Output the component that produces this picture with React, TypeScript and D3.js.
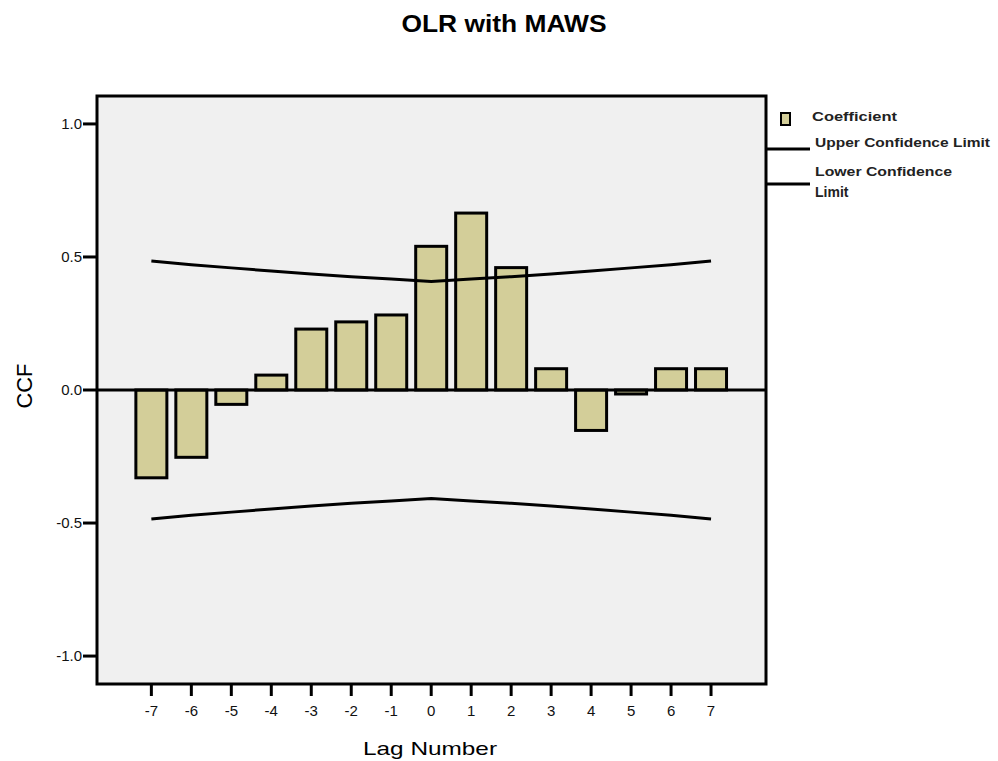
import React from "react";
import * as d3 from "d3";

const lags = [-7, -6, -5, -4, -3, -2, -1, 0, 1, 2, 3, 4, 5, 6, 7];
const coefficient = [-0.33, -0.253, -0.054, 0.056, 0.229, 0.256, 0.282, 0.54, 0.665, 0.46, 0.08, -0.152, -0.015, 0.08, 0.08];
const upperLimit = [0.485, 0.471, 0.459, 0.447, 0.436, 0.426, 0.417, 0.408, 0.417, 0.426, 0.436, 0.447, 0.459, 0.471, 0.485];
const lowerLimit = [-0.485, -0.471, -0.459, -0.447, -0.436, -0.426, -0.417, -0.408, -0.417, -0.426, -0.436, -0.447, -0.459, -0.471, -0.485];
const yTicks = [1.0, 0.5, 0.0, -0.5, -1.0];
const legendLabels = ["Coefficient", "Upper Confidence Limit", "Lower Confidence", "Limit"];

const W = 998, H = 761;
const plot = { left: 97, right: 766, top: 96, bottom: 684 };
const FILL = "#d3ce99";
const BG = "#f0f0f0";
const FONT = "Liberation Sans, Arial, sans-serif";

export default function App() {
  const x = d3.scaleLinear().domain([-8.36, 8.375]).range([plot.left, plot.right]);
  const y = d3.scaleLinear().domain([-1.105, 1.105]).range([plot.bottom, plot.top]);
  const barW = 31;
  const line = d3.line<number>().x((_, i) => x(lags[i])).y((d) => y(d));

  return (
    <svg width={W} height={H} style={{ position: "absolute", left: 0, top: 0, background: "#fff" }} fontFamily={FONT}>
      <rect x={0} y={0} width={W} height={H} fill="#fff" />
      <text x={504} y={32} textAnchor="middle" fontSize={24} fontWeight="bold" textLength={205} lengthAdjust="spacingAndGlyphs">OLR with MAWS</text>

      <rect x={plot.left} y={plot.top} width={plot.right - plot.left} height={plot.bottom - plot.top} fill={BG} />

      {lags.map((k, i) => {
        const v = coefficient[i];
        const y0 = y(Math.max(0, v));
        const y1 = y(Math.min(0, v));
        return (
          <rect key={k} x={x(k) - barW / 2} y={y0} width={barW} height={Math.max(1, y1 - y0)} fill={FILL} stroke="#000" strokeWidth={3} />
        );
      })}

      <line x1={plot.left} x2={plot.right} y1={y(0)} y2={y(0)} stroke="#000" strokeWidth={3} />
      <path d={line(upperLimit) || ""} fill="none" stroke="#000" strokeWidth={3} />
      <path d={line(lowerLimit) || ""} fill="none" stroke="#000" strokeWidth={3} />

      <rect x={plot.left} y={plot.top} width={plot.right - plot.left} height={plot.bottom - plot.top} fill="none" stroke="#000" strokeWidth={3} />

      {yTicks.map((t) => (
        <g key={t}>
          <line x1={plot.left - 14} x2={plot.left} y1={y(t)} y2={y(t)} stroke="#000" strokeWidth={3} />
          <text x={plot.left - 15} y={y(t)} dy="0.36em" textAnchor="end" fontSize={15} fill="#111">{t.toFixed(1)}</text>
        </g>
      ))}
      <text transform={`translate(32,386) rotate(-90)`} textAnchor="middle" fontSize={22} textLength={45} lengthAdjust="spacingAndGlyphs">CCF</text>

      {lags.map((k) => (
        <g key={k}>
          <line x1={x(k)} x2={x(k)} y1={plot.bottom + 1} y2={plot.bottom + 12} stroke="#000" strokeWidth={3} />
          <text x={x(k)} y={711} dy="0.36em" textAnchor="middle" fontSize={15} fill="#111">{k}</text>
        </g>
      ))}
      <text x={430} y={755} textAnchor="middle" fontSize={19} textLength={134} lengthAdjust="spacingAndGlyphs">Lag Number</text>

      <rect x={781} y={113} width={9} height={12} fill={FILL} stroke="#000" strokeWidth={2} />
      <text x={812} y={121} fontSize={13} fontWeight="bold" fill="#222" textLength={85} lengthAdjust="spacingAndGlyphs">{legendLabels[0]}</text>
      <line x1={plot.right} x2={810} y1={149} y2={149} stroke="#000" strokeWidth={3} />
      <text x={815} y={147} fontSize={13} fontWeight="bold" fill="#222" textLength={175} lengthAdjust="spacingAndGlyphs">{legendLabels[1]}</text>
      <line x1={plot.right} x2={810} y1={184} y2={184} stroke="#000" strokeWidth={3} />
      <text x={815} y={176} fontSize={13} fontWeight="bold" fill="#222" textLength={137} lengthAdjust="spacingAndGlyphs">{legendLabels[2]}</text>
      <text x={815} y={197} fontSize={14} fontWeight="bold" fill="#222">{legendLabels[3]}</text>
    </svg>
  );
}
